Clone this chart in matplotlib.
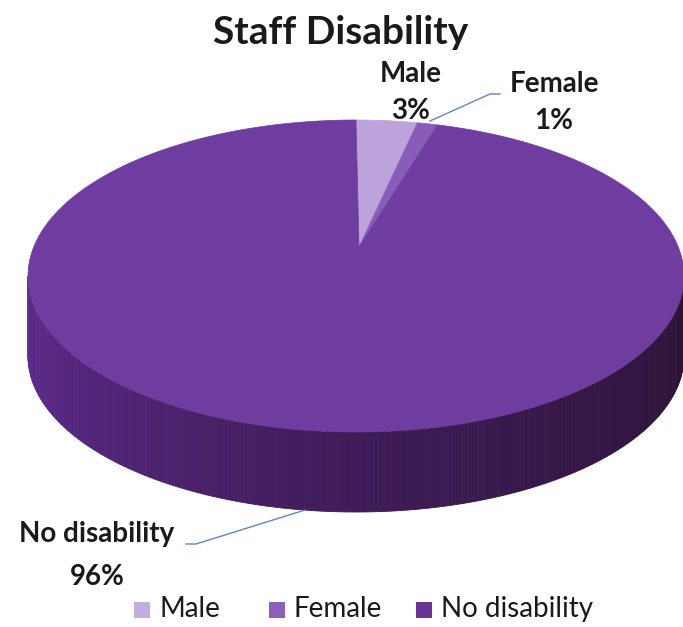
import numpy as np
import matplotlib
matplotlib.use("Agg")
import matplotlib.pyplot as plt
from matplotlib.patches import Polygon, Rectangle

# data
categories = ["Male", "Female", "No disability"]
values = [3, 1, 96]
title = "Staff Disability"

top_colors = ["#BCA3DC", "#8A5CBA", "#6F3C9F"]
legend_colors = ["#C3ACDF", "#8D5EBB", "#6A3494"]

# geometry of the pie in pixels (y grows downward)
cx, cy = 356, 276
a, b = 328, 156
depth = 80
tip = (359, 247)

fig = plt.figure(figsize=(6.83, 6.27), dpi=100)
ax = fig.add_axes([0, 0, 1, 1])
ax.set_xlim(0, 683)
ax.set_ylim(627, 0)
ax.axis("off")

font = "Lato"
ink = "#1a1a1a"

def rim(t, dy=0.0):
    return cx + a * np.cos(t), cy + b * np.sin(t) + dy

# side of the cylinder (front half), shaded left to right
side_left = np.array(matplotlib.colors.to_rgb("#5F2C90"))
side_mid = np.array(matplotlib.colors.to_rgb("#3F1C58"))
side_right = np.array(matplotlib.colors.to_rgb("#2B1233"))
ts = np.linspace(0, np.pi, 181)
for t0, t1 in zip(ts[:-1], ts[1:]):
    x0, y0 = rim(t0)
    x1, y1 = rim(t1)
    f = (t0 + t1) / 2 / np.pi  # 0 right, 1 left
    if f > 0.5:
        c = side_mid + (side_left - side_mid) * (f - 0.5) * 2
    else:
        c = side_right + (side_mid - side_right) * f * 2
    ax.add_patch(Polygon([(x0, y0), (x1, y1), (x1, y1 + depth), (x0, y0 + depth)],
                         closed=True, facecolor=c, edgecolor=c, lw=0.6))

# top face slices, clockwise from 12 o'clock
total = float(sum(values))
start = -np.pi / 2
for val, col in zip(values, top_colors):
    span = 2 * np.pi * val / total
    tt = np.linspace(start, start + span, max(int(val * 8), 4))
    pts = [tip] + [rim(t) for t in tt]
    ax.add_patch(Polygon(pts, closed=True, facecolor=col, edgecolor=col, lw=0.5))
    start += span

# title
ax.text(341, 33, title, ha="center", va="center", fontsize=28, fontweight="bold",
        family=font, color=ink)

# data labels
lab_style = dict(ha="center", fontsize=20, fontweight="bold", family=font, color=ink)
ax.text(411, 74, categories[0], va="center", **lab_style)
ax.text(411, 111, f"{values[0]}%", va="center", **lab_style)
ax.text(554, 84, categories[1], va="center", **lab_style)
ax.text(554, 121, f"{values[1]}%", va="center", **lab_style)
ax.text(97, 534, categories[2], va="center", **lab_style)
ax.text(97, 577, f"{values[2]}%", va="center", **lab_style)

# leader lines
ax.plot([430, 490, 500], [121, 94, 94], color="#5F86C8", lw=1)
ax.plot([186, 196, 305], [544, 544, 510], color="#5F86C8", lw=1)

# legend
leg_x = [134, 269, 416]
for x, c, name in zip(leg_x, legend_colors, categories):
    ax.add_patch(Rectangle((x, 602), 16, 16, facecolor=c, edgecolor="none"))
    ax.text(x + 25, 609, name, ha="left", va="center", fontsize=20,
            family=font, color=ink)

fig.savefig("out.png", dpi=100)
